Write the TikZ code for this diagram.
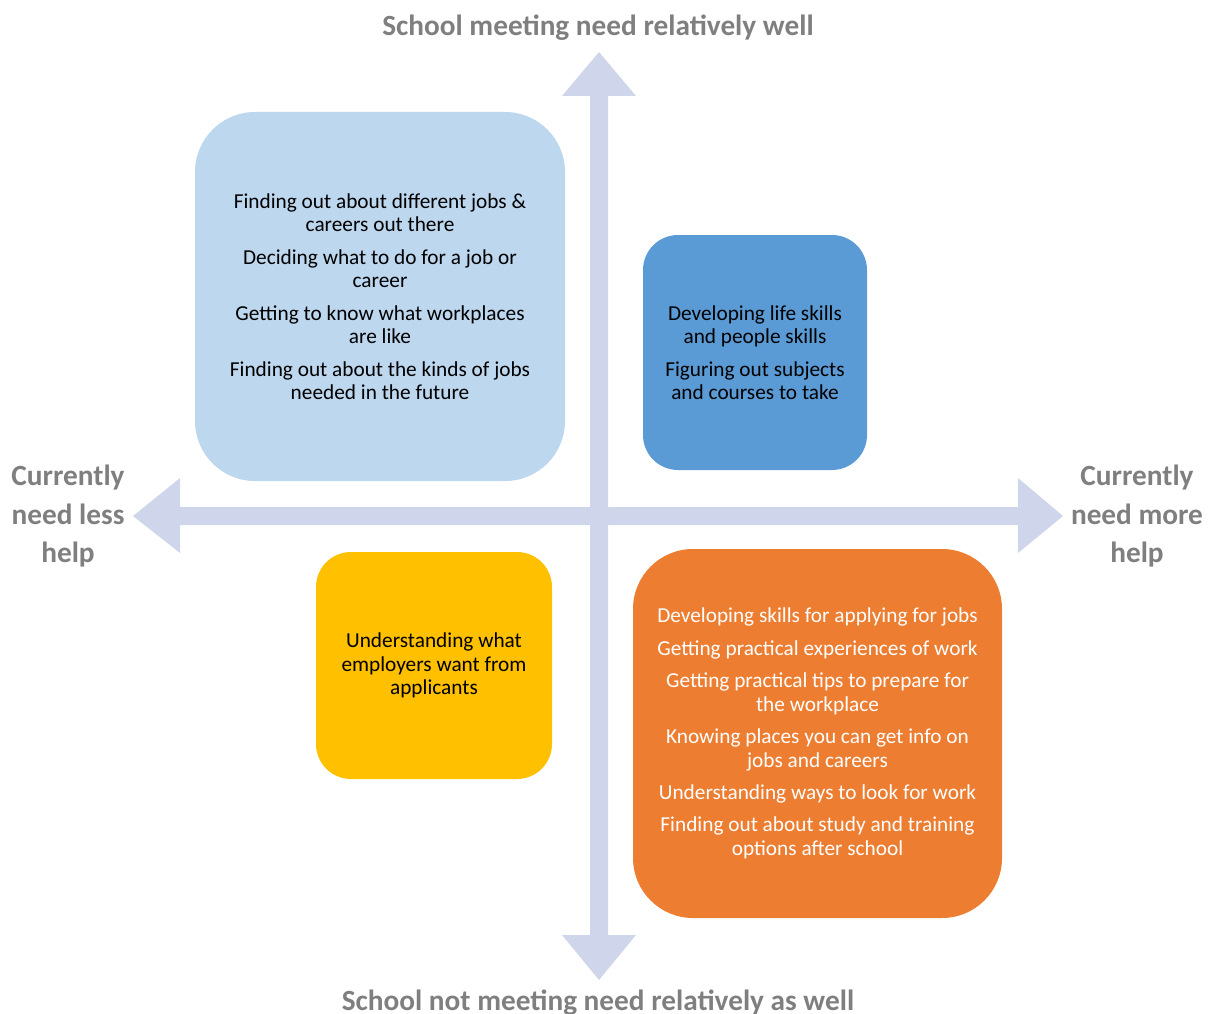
\documentclass[tikz,border=0pt]{standalone}
\usepackage{fontspec}
\setmainfont{Carlito}
\definecolor{axiscol}{HTML}{CFD5EA}
\definecolor{lightbluebox}{HTML}{BDD7EE}
\definecolor{bluebox}{HTML}{5B9BD5}
\definecolor{yellowbox}{HTML}{FFC000}
\definecolor{orangebox}{HTML}{ED7D31}
\definecolor{labelgray}{HTML}{7F7F7F}
\tikzset{
  quad/.style={rounded corners=#1, inner sep=0pt, align=center,
    font=\fontsize{21.3}{23.6}\selectfont},
  axislabel/.style={text=labelgray, align=center, inner sep=0pt,
    font=\bfseries\fontsize{29.3}{38.5}\selectfont},
}
\newcommand{\pgap}{\\[8.8pt]}
\begin{document}
\begin{tikzpicture}[x=1pt,y=-1pt]
\useasboundingbox (0,0) rectangle (1212,1014);
% axes
\fill[axiscol] (133,516) -- (180,478) -- (180,507) -- (1018,507) -- (1018,478) -- (1063,516)
  -- (1018,553) -- (1018,525) -- (180,525) -- (180,553) -- cycle;
\fill[axiscol] (599,52) -- (636,96) -- (608,96) -- (608,935) -- (636,935) -- (599,980)
  -- (562,935) -- (590,935) -- (590,96) -- (562,96) -- cycle;
% boxes
\node[quad=60pt, fill=lightbluebox, minimum width=370pt, minimum height=369pt] (q1) at (380,296.5)
  {Finding out about different jobs \&\\careers out there\pgap
   Deciding what to do for a job or\\career\pgap
   Getting to know what workplaces\\are like\pgap
   Finding out about the kinds of jobs\\needed in the future};
\node[quad=35pt, fill=bluebox, minimum width=224pt, minimum height=235pt] (q2) at (755,352.5)
  {Developing life skills\\and people skills\pgap
   Figuring out subjects\\and courses to take};
\node[quad=35pt, fill=yellowbox, minimum width=236pt, minimum height=227pt] (q3) at (434,665.5)
  {Understanding what\\employers want from\\applicants};
\node[quad=60pt, fill=orangebox, text=white, minimum width=369pt, minimum height=369pt] (q4) at (817.5,733.5)
  {Developing skills for applying for jobs\pgap
   Getting practical experiences of work\pgap
   Getting practical tips to prepare for\\the workplace\pgap
   Knowing places you can get info on\\jobs and careers\pgap
   Understanding ways to look for work\pgap
   Finding out about study and training\\options after school};
% axis labels
\node[axislabel] (top) at (598,28) {School meeting need relatively well};
\node[axislabel] (bottom) at (598,1003) {School not meeting need relatively as well};
\node[axislabel] (left) at (68,516.5) {Currently\\need less\\help};
\node[axislabel] (right) at (1137,516.5) {Currently\\need more\\help};
\end{tikzpicture}
\end{document}
